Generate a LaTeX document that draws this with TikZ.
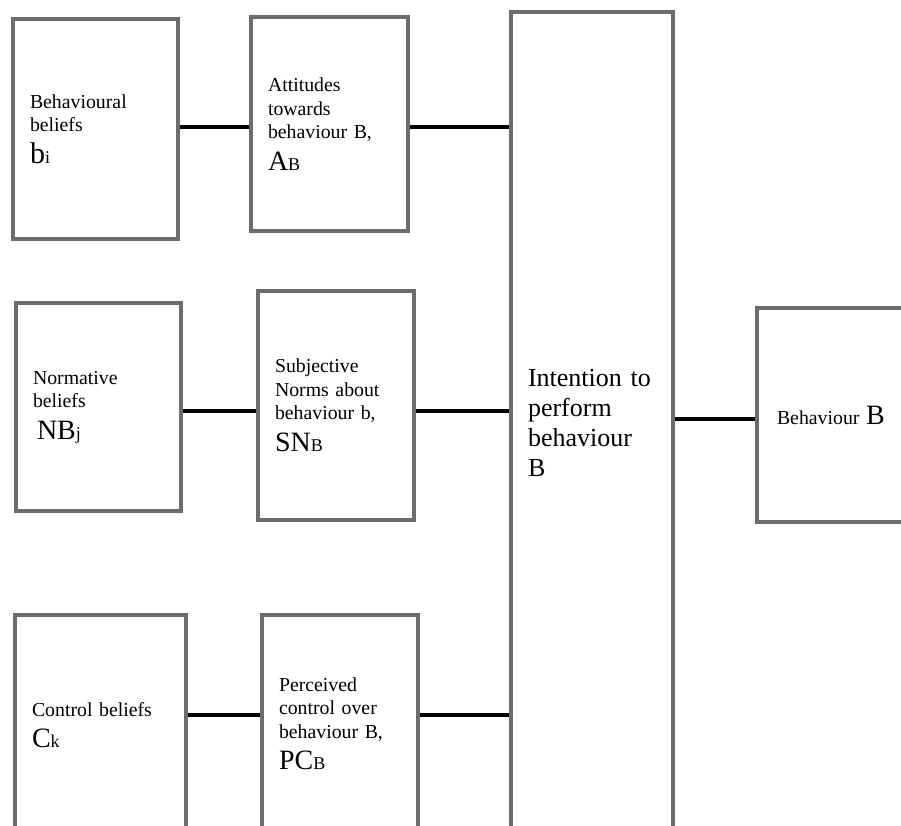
\documentclass[tikz,border=0pt]{standalone}
\usepackage{fontspec}
\setmainfont{Liberation Serif}
\usepackage{xcolor}
\usepackage{tikz}

\definecolor{boxgray}{RGB}{108,108,108}
\newcommand{\plainsz}{\fontsize{19.8}{23.5}\selectfont}
\newcommand{\symsz}{\fontsize{28}{30}\selectfont}
\newcommand{\subsz}{\fontsize{18}{20}\selectfont}
\newcommand{\intsz}{\fontsize{26}{30}\selectfont}

\begin{document}
\begin{tikzpicture}[
    x=1pt, y=-1pt,
    box/.style={rectangle, draw=boxgray, line width=4pt, anchor=north west, align=left, inner xsep=17pt, inner ysep=0pt, font=\plainsz},
    link/.style={line width=3.5pt}
]
    \useasboundingbox (0,0) rectangle (901,826);
    \clip (0,0) rectangle (901,826);

    % Beliefs
    \node[box, minimum width=165pt, minimum height=220pt, text width=131pt] (behbel) at (11,17)
        {Behavioural\\beliefs\\[8pt]{\fontsize{30}{30}\selectfont b}{\subsz i}};
    \node[box, minimum width=165pt, minimum height=208pt, text width=131pt] (normbel) at (14,301)
        {Normative\\beliefs\\[8pt]\hspace{4pt}{\symsz NB}{\subsz j}};
    \node[box, minimum width=171pt, minimum height=220pt, text width=137pt] (ctrlbel) at (13,613)
        {Control beliefs\\[8pt]{\symsz C}{\subsz k}};

    % Attitudes, norms, control
    \node[box, minimum width=157pt, minimum height=214pt, text width=123pt] (attitude) at (249,15)
        {Attitudes\\towards\\behaviour B,\\[8pt]{\symsz A}{\subsz B}};
    \node[box, minimum width=156pt, minimum height=229pt, text width=122pt] (subjnorm) at (256,289)
        {Subjective\\Norms about\\behaviour b,\\[8pt]{\symsz SN}{\subsz B}};
    \node[box, minimum width=156pt, minimum height=218pt, text width=122pt] (perceived) at (260,613)
        {Perceived\\control over\\behaviour B,\\[8pt]{\symsz PC}{\subsz B}};

    % Intention and behaviour
    \node[box, minimum width=162pt, minimum height=822pt, text width=128pt, font=\intsz] (intention) at (509,10)
        {Intention to\\perform\\behaviour\\B};
    \node[box, minimum width=165pt, minimum height=214pt, inner xsep=20pt, text width=125pt] (behaviour) at (755,306)
        {Behaviour {\fontsize{28}{30}\selectfont B}};

    % Rows of the connectors
    \coordinate (row1) at (0,127);
    \coordinate (row2) at (0,411);
    \coordinate (row3) at (0,715);
    \coordinate (row4) at (0,419);

    % Connectors
    \draw[link] (behbel.east |- row1) -- (attitude.west |- row1);
    \draw[link] (attitude.east |- row1) -- (intention.west |- row1);
    \draw[link] (normbel.east |- row2) -- (subjnorm.west |- row2);
    \draw[link] (subjnorm.east |- row2) -- (intention.west |- row2);
    \draw[link] (ctrlbel.east |- row3) -- (perceived.west |- row3);
    \draw[link] (perceived.east |- row3) -- (intention.west |- row3);
    \draw[link] (intention.east |- row4) -- (behaviour.west |- row4);
\end{tikzpicture}
\end{document}
